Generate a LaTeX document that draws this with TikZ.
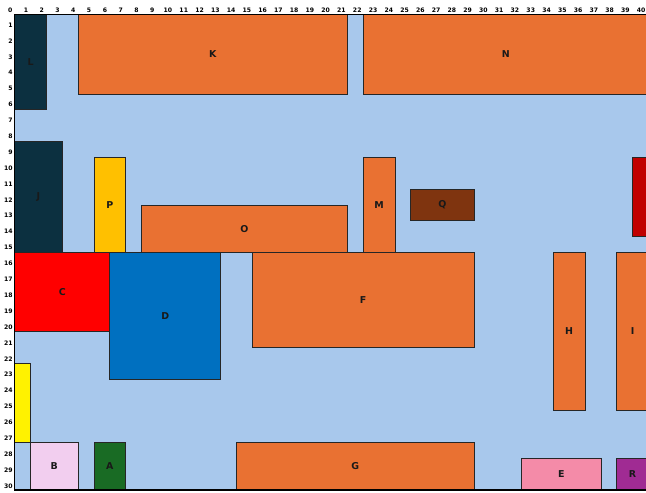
\documentclass[tikz,border=0pt]{standalone}
\usepackage{fontspec}
\setmainfont{DejaVu Sans}
\usetikzlibrary{fit}
\definecolor{bg}{HTML}{A8C8EC}
\definecolor{orng}{HTML}{E97132}
\definecolor{navy}{HTML}{0C3040}
\definecolor{gold}{HTML}{FFC000}
\definecolor{brn}{HTML}{7F340F}
\definecolor{dred}{HTML}{C00000}
\definecolor{lpink}{HTML}{F2CEEF}
\definecolor{dgreen}{HTML}{196B24}
\definecolor{pnk}{HTML}{F48BA8}
\definecolor{purp}{HTML}{A02B93}
\definecolor{blu}{HTML}{0070C0}
\tikzset{
  roombox/.style={draw=black!85, line width=0.5pt, inner sep=0pt, outer sep=0pt},
  rlabel/.style={font=\bfseries\fontsize{8.5}{9}\selectfont, inner sep=0pt, text=black!90},
  colnum/.style={font=\bfseries\fontsize{5.5}{6}\selectfont, inner sep=0pt},
  rownum/.style={colnum, anchor=east},
  border/.style={line width=1.1pt, black},
}
\newcommand\roomnode[7]{%
  \node[roombox, fill=#6, fit={(#2,#3) (#4,#5)}, label={[rlabel]center:#7}] (#1) {};}
\begin{document}
\begin{tikzpicture}[x=0.5cm,y=-0.5cm]
\clip (-0.928,-0.928) rectangle (39.85,30.13);
\fill[white] (-0.928,-0.928) rectangle (39.85,30.13);
\fill[bg] (0,0) rectangle (41,30);
% rooms
\roomnode{L}{0}{0}{2}{6}{navy}{L}
\roomnode{K}{4}{0}{21}{5}{orng}{K}
\roomnode{N}{22}{0}{40}{5}{orng}{N}
\roomnode{J}{0}{8}{3}{15}{navy}{J}
\roomnode{P}{5}{9}{7}{15}{gold}{P}
\roomnode{O}{8}{12}{21}{15}{orng}{O}
\roomnode{M}{22}{9}{24}{15}{orng}{M}
\roomnode{Q}{25}{11}{29}{13}{brn}{Q}
\node[roombox, fill=dred, fit={(39,9) (41,14)}] (S) {};
\roomnode{C}{0}{15}{6}{20}{red}{C}
\roomnode{D}{6}{15}{13}{23}{blu}{D}
\roomnode{F}{15}{15}{29}{21}{orng}{F}
\roomnode{H}{34}{15}{36}{25}{orng}{H}
\roomnode{I}{38}{15}{40}{25}{orng}{I}
\node[roombox, fill=yellow, fit={(0,22) (1,27)}] (Y) {};
\roomnode{B}{1}{27}{4}{30}{lpink}{B}
\roomnode{A}{5}{27}{7}{30}{dgreen}{A}
\roomnode{G}{14}{27}{29}{30}{orng}{G}
\roomnode{E}{32}{28}{37}{30}{pnk}{E}
\roomnode{R}{38}{28}{40}{30}{purp}{R}
% borders
\coordinate (tl) at (0,0);
\coordinate (tr) at (41,0);
\coordinate (bl) at (0,30);
\coordinate (br) at (41,30);
\draw[border] (tr) -- (tl) -- (bl) -- (br);
% axis numbers
\foreach \n in {0,...,40} \node[colnum] (c\n) at ({-0.28+0.9956*\n},-0.30) {\n};
\foreach \n in {1,...,30} \node[rownum] (r\n) at (-0.12,{0.65+1.0035*(\n-1)}) {\n};
\end{tikzpicture}
\end{document}
